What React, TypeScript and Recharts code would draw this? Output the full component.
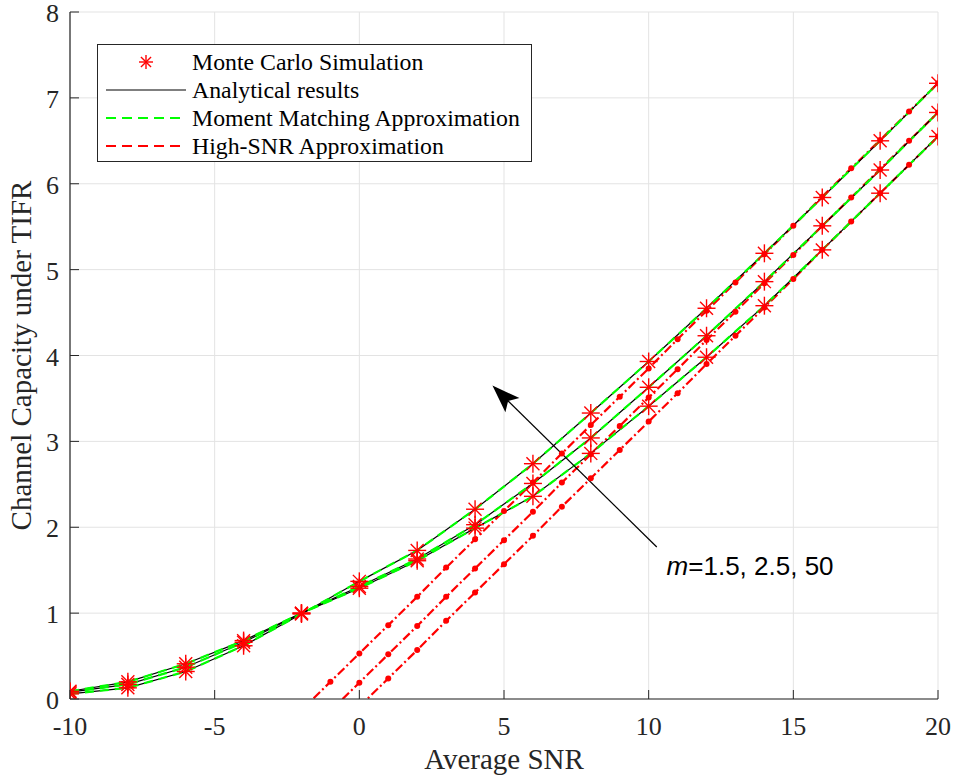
import React from "react";
import {
    LineChart,
    Line,
    XAxis,
    YAxis,
    CartesianGrid,
    Legend,
    ReferenceLine,
    ReferenceDot,
} from "recharts";

// Monte Carlo / analytical points (every 2 dB)
const snrCoarse = [-10, -8, -6, -4, -2, 0, 2, 4, 6, 8, 10, 12, 14, 16, 18, 20];
const capM50 = [0.06, 0.13, 0.32, 0.62, 0.99, 1.37, 1.73, 2.21, 2.74, 3.33, 3.93, 4.55, 5.19, 5.84, 6.5, 7.17];
const capM25 = [0.08, 0.17, 0.37, 0.66, 1.0, 1.31, 1.63, 2.03, 2.51, 3.04, 3.63, 4.23, 4.86, 5.51, 6.16, 6.83];
const capM15 = [0.09, 0.2, 0.41, 0.68, 1.0, 1.29, 1.61, 1.99, 2.36, 2.86, 3.41, 3.98, 4.58, 5.23, 5.89, 6.55];

// high-SNR approximation (every 1 dB)
const snrHighM50 = [-2, -1, 0, 1, 2, 3, 4, 5, 6, 7, 8, 9, 10, 11, 12, 13, 14, 15, 16, 17, 18, 19, 20];
const highM50 = [-0.13, 0.2, 0.53, 0.86, 1.19, 1.53, 1.86, 2.19, 2.52, 2.86, 3.19, 3.52, 3.85, 4.19, 4.52, 4.85, 5.18, 5.51, 5.85, 6.18, 6.51, 6.84, 7.17];
const snrHighM25 = [-1, 0, 1, 2, 3, 4, 5, 6, 7, 8, 9, 10, 11, 12, 13, 14, 15, 16, 17, 18, 19, 20];
const highM25 = [-0.14, 0.19, 0.52, 0.85, 1.19, 1.52, 1.85, 2.18, 2.52, 2.85, 3.18, 3.51, 3.84, 4.18, 4.51, 4.84, 5.17, 5.51, 5.84, 6.17, 6.5, 6.83];
const snrHighM15 = [0, 1, 2, 3, 4, 5, 6, 7, 8, 9, 10, 11, 12, 13, 14, 15, 16, 17, 18, 19, 20];
const highM15 = [-0.09, 0.24, 0.57, 0.91, 1.24, 1.57, 1.9, 2.24, 2.57, 2.9, 3.23, 3.56, 3.9, 4.23, 4.56, 4.89, 5.23, 5.56, 5.89, 6.22, 6.55];

const xTicks = [-10, -5, 0, 5, 10, 15, 20];
const yTicks = [0, 1, 2, 3, 4, 5, 6, 7, 8];

const legendLabels = [
    "Monte Carlo Simulation",
    "Analytical results",
    "Moment Matching Approximation",
    "High-SNR Approximation",
];
const annotationText = ["m", "=1.5, 2.5, 50"];

const rows = snrCoarse.map((snr, i) => ({ snr, m50: capM50[i], m25: capM25[i], m15: capM15[i] }));
const toRows = (xs: number[], ys: number[]) => xs.map((snr, i) => ({ snr, v: ys[i] }));
const highSets = [toRows(snrHighM50, highM50), toRows(snrHighM25, highM25), toRows(snrHighM15, highM15)];

const SERIF = "'Liberation Serif', 'Times New Roman', serif";
const SANS = "'Liberation Sans', Arial, sans-serif";
const AXIS = "#262626";
const RED = "#ff0000";
const GREEN = "#00ff00";

const Star = (props: any) => {
    const { cx, cy, size } = props;
    if (cx == null || cy == null) return null;
    const r = size || 9;
    const d = r * 0.72;
    return (
        <g stroke={RED} strokeWidth={1.4}>
            <line x1={cx - r} y1={cy} x2={cx + r} y2={cy} />
            <line x1={cx} y1={cy - r} x2={cx} y2={cy + r} />
            <line x1={cx - d} y1={cy - d} x2={cx + d} y2={cy + d} />
            <line x1={cx - d} y1={cy + d} x2={cx + d} y2={cy - d} />
        </g>
    );
};

const RedDot = (props: any) => {
    const { cx, cy, payload } = props;
    if (cx == null || payload.v < 0) return null;
    return <circle cx={cx} cy={cy} r={3} fill={RED} stroke="none" />;
};

const BottomTick = (props: any) => {
    const { x, y, payload } = props;
    return (
        <g>
            <line x1={x} y1={y} x2={x} y2={y - 9} stroke={AXIS} />
            <text x={x} y={y + 36} textAnchor="middle" fill={AXIS} fontFamily={SERIF} fontSize={26}>
                {payload.value}
            </text>
        </g>
    );
};

const LeftTick = (props: any) => {
    const { x, y, payload } = props;
    return (
        <g>
            <line x1={x} y1={y} x2={x + 9} y2={y} stroke={AXIS} />
            <text x={x - 11} y={y + 10} textAnchor="end" fill={AXIS} fontFamily={SERIF} fontSize={26}>
                {payload.value}
            </text>
        </g>
    );
};

const TopTick = (props: any) => <line x1={props.x} y1={props.y} x2={props.x} y2={props.y + 9} stroke={AXIS} />;
const RightTick = (props: any) => <line x1={props.x} y1={props.y} x2={props.x - 9} y2={props.y} stroke={AXIS} />;

const Arrow = (props: any) => {
    const { x1, y1, x2, y2 } = props;
    const len = Math.hypot(x2 - x1, y2 - y1);
    const ux = (x2 - x1) / len;
    const uy = (y2 - y1) / len;
    const nx = -uy;
    const ny = ux;
    const headLen = 28;
    const half = 10;
    const notch = 22;
    const bx = x2 - ux * headLen;
    const by = y2 - uy * headLen;
    const pts = [
        [x2, y2],
        [bx + nx * half, by + ny * half],
        [x2 - ux * notch, y2 - uy * notch],
        [bx - nx * half, by - ny * half],
    ].map((p) => p.join(",")).join(" ");
    return (
        <g>
            <line x1={x1} y1={y1} x2={x2 - ux * notch} y2={y2 - uy * notch} stroke="#000" strokeWidth={1.2} />
            <polygon points={pts} fill="#000" />
        </g>
    );
};

const Annotation = (props: any) => {
    const { cx, cy } = props;
    return (
        <text x={cx} y={cy} fontFamily={SANS} fontSize={26} fill="#000">
            <tspan fontStyle="italic">{annotationText[0]}</tspan>
            <tspan>{annotationText[1]}</tspan>
        </text>
    );
};

const LegendBox = () => {
    const samples = [
        <Star cx={48} cy={14} size={7} />,
        <line x1={8} y1={14} x2={88} y2={14} stroke="#000" strokeWidth={1.2} />,
        <line x1={8} y1={14} x2={88} y2={14} stroke={GREEN} strokeWidth={2} strokeDasharray="10 6" />,
        <line x1={8} y1={14} x2={88} y2={14} stroke={RED} strokeWidth={2} strokeDasharray="10 6" />,
    ];
    return (
        <div
            style={{
                border: "1px solid " + AXIS,
                background: "#fff",
                width: 435,
                height: 118,
                boxSizing: "border-box",
                paddingTop: 3,
                fontFamily: SERIF,
                fontSize: 23.8,
                color: "#000",
            }}
        >
            {legendLabels.map((label, i) => (
                <div key={label} style={{ height: 28, display: "flex", alignItems: "center" }}>
                    <svg width={94} height={28} style={{ flex: "none" }}>
                        {samples[i]}
                    </svg>
                    <span style={{ whiteSpace: "nowrap", lineHeight: "28px" }}>{label}</span>
                </div>
            ))}
        </div>
    );
};

const XTitle = (props: any) => {
    const vb = props.viewBox;
    return (
        <text x={vb.x + vb.width / 2} y={vb.y + 70} textAnchor="middle" fill={AXIS} fontFamily={SERIF} fontSize={29}>
            Average SNR
        </text>
    );
};

const YTitle = (props: any) => {
    const vb = props.viewBox;
    const cx = 31;
    const cy = vb.y + vb.height / 2;
    return (
        <text x={cx} y={cy} transform={`rotate(-90, ${cx}, ${cy})`} textAnchor="middle" fill={AXIS} fontFamily={SERIF} fontSize={29}>
            Channel Capacity under TIFR
        </text>
    );
};

const curveKeys = ["m50", "m25", "m15"];

export default function App() {
    return (
        <div style={{ position: "absolute", left: 0, top: 0, width: 954, height: 776, background: "#fff" }}>
            <LineChart width={954} height={776} data={rows} margin={{ top: 12, right: 16, left: 10, bottom: 10 }}>
                <CartesianGrid stroke="#e3e3e3" strokeWidth={1} verticalValues={xTicks} horizontalValues={yTicks} />
                <XAxis
                    dataKey="snr"
                    type="number"
                    domain={[-10, 20]}
                    ticks={xTicks}
                    interval={0}
                    allowDataOverflow
                    height={67}
                    tickSize={0}
                    tickMargin={0}
                    tickLine={false}
                    tick={<BottomTick />}
                    axisLine={{ stroke: AXIS, strokeWidth: 1.2 }}
                    label={{ content: XTitle }}
                />
                <XAxis
                    xAxisId="top"
                    orientation="top"
                    dataKey="snr"
                    type="number"
                    domain={[-10, 20]}
                    ticks={xTicks}
                    interval={0}
                    height={0}
                    tickSize={0}
                    tickMargin={0}
                    tickLine={false}
                    tick={<TopTick />}
                    axisLine={{ stroke: AXIS, strokeWidth: 1.2 }}
                />
                <YAxis
                    type="number"
                    domain={[0, 8]}
                    ticks={yTicks}
                    interval={0}
                    allowDataOverflow
                    width={60}
                    tickSize={0}
                    tickMargin={0}
                    tickLine={false}
                    tick={<LeftTick />}
                    axisLine={{ stroke: AXIS, strokeWidth: 1.2 }}
                    label={{ content: YTitle }}
                />
                <YAxis
                    yAxisId="right"
                    orientation="right"
                    type="number"
                    domain={[0, 8]}
                    ticks={yTicks}
                    interval={0}
                    width={0}
                    tickSize={0}
                    tickMargin={0}
                    tickLine={false}
                    tick={<RightTick />}
                    axisLine={{ stroke: AXIS, strokeWidth: 1.2 }}
                />

                {highSets.map((set, i) => (
                    <Line
                        key={"high" + i}
                        data={set}
                        dataKey="v"
                        type="linear"
                        stroke={RED}
                        strokeWidth={2.2}
                        strokeDasharray="9 3 2 3"
                        dot={<RedDot />}
                        activeDot={false}
                        isAnimationActive={false}
                    />
                ))}
                {curveKeys.map((k) => (
                    <Line
                        key={"ana" + k}
                        dataKey={k}
                        type="linear"
                        stroke="#000"
                        strokeWidth={1.2}
                        dot={false}
                        activeDot={false}
                        isAnimationActive={false}
                    />
                ))}
                {curveKeys.map((k) => (
                    <Line
                        key={"mm" + k}
                        dataKey={k}
                        type="linear"
                        stroke={GREEN}
                        strokeWidth={2.2}
                        strokeDasharray="9 6"
                        dot={false}
                        activeDot={false}
                        isAnimationActive={false}
                    />
                ))}
                {curveKeys.map((k) => (
                    <Line
                        key={"mc" + k}
                        dataKey={k}
                        type="linear"
                        stroke="none"
                        dot={<Star />}
                        activeDot={false}
                        isAnimationActive={false}
                    />
                ))}

                <ReferenceLine
                    segment={[{ x: 10.28, y: 1.77 }, { x: 4.6, y: 3.65 }]}
                    shape={Arrow}
                    ifOverflow="visible"
                />
                <ReferenceDot x={10.62} y={1.44} r={0} shape={Annotation} ifOverflow="visible" />

                <Legend
                    layout="vertical"
                    align="center"
                    verticalAlign="middle"
                    wrapperStyle={{ left: 97, top: 44, width: 435 }}
                    content={<LegendBox />}
                />
            </LineChart>
        </div>
    );
}
